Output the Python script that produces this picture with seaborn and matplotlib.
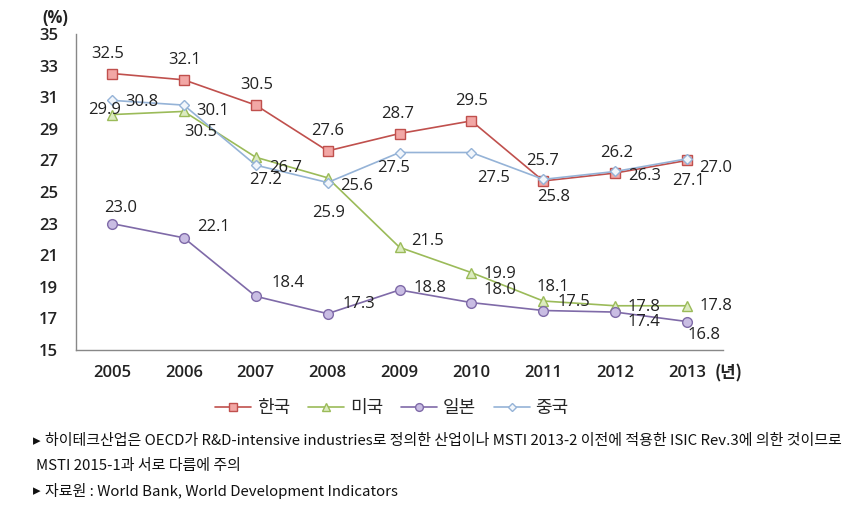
import matplotlib
matplotlib.use("Agg")
import matplotlib.pyplot as plt
import seaborn as sns
import pandas as pd
from matplotlib.ticker import FixedLocator

years = ["2005", "2006", "2007", "2008", "2009", "2010", "2011", "2012", "2013"]
korea = [32.5, 32.1, 30.5, 27.6, 28.7, 29.5, 25.7, 26.2, 27.0]
usa = [29.9, 30.1, 27.2, 25.9, 21.5, 19.9, 18.1, 17.8, 17.8]
japan = [23.0, 22.1, 18.4, 17.3, 18.8, 18.0, 17.5, 17.4, 16.8]
china = [30.8, 30.5, 26.7, 25.6, 27.5, 27.5, 25.8, 26.3, 27.1]
series_names = ["한국", "미국", "일본", "중국"]
yticks = [15, 17, 19, 21, 23, 25, 27, 29, 31, 33, 35]
notes = [
    "하이테크산업은 OECD가 R&D-intensive industries로 정의한 산업이나 MSTI 2013-2 이전에 적용한 ISIC Rev.3에 의한 것이므로",
    "MSTI 2015-1과 서로 다름에 주의",
    "자료원 : World Bank, World Development Indicators",
]

sns.set_theme(style="white")
plt.rcParams["font.family"] = ["Noto Sans CJK KR", "DejaVu Sans"]

values = {"한국": korea, "미국": usa, "일본": japan, "중국": china}
rows = []
for name in series_names:
    for i, (yr, v) in enumerate(zip(years, values[name])):
        rows.append({"pos": i, "year": yr, "value": v, "country": name})
df = pd.DataFrame(rows)

styles = {
    "한국": dict(color="#C0504D", marker="s", mfc="#F2A7A5", mec="#C0504D", ms=6.5),
    "미국": dict(color="#9BBB59", marker="^", mfc="#DCEBC0", mec="#9BBB59", ms=7),
    "일본": dict(color="#7F6AA8", marker="o", mfc="#C9BDE3", mec="#7F6AA8", ms=7),
    "중국": dict(color="#95B3D7", marker="D", mfc="#F2F6FB", mec="#95B3D7", ms=5),
}

# label offsets in pixels (dx right, dy down) -- styling only
offsets = {
    "한국": [(-4, -20), (1, -20), (1, -20), (0, -20), (-2, -20), (0, -20), (-1, -20), (1, -20), (29, 8)],
    "미국": [(-7, -5), (29, 0), (10, 23), (1, 35), (28, -6), (29, 1), (10, -14), (29, 1), (29, 0)],
    "일본": [(9, -16), (30, -11), (32, -13), (31, -10), (31, -2), (29, -13), (31, -8), (29, 10), (17, 13)],
    "중국": [(30, 2), (17, 27), (30, 3), (29, 3), (-6, 15), (22, 26), (10, 18), (29, 5), (1, 22)],
}

fig = plt.figure(figsize=(8.67, 5.15), dpi=100)
ax = fig.add_axes([76 / 867, 1 - 350 / 515, (723 - 76) / 867, (350 - 34) / 515])

for name in series_names:
    st = styles[name]
    sub = df[df["country"] == name]
    sns.lineplot(data=sub, x="pos", y="value", ax=ax, color=st["color"], lw=1.2,
                 marker=st["marker"], markerfacecolor=st["mfc"], markeredgecolor=st["mec"],
                 markeredgewidth=1.0, markersize=st["ms"], label=name, legend=False)

for name in series_names:
    for i, v in enumerate(values[name]):
        dx, dy = offsets[name][i]
        ax.annotate(f"{v:.1f}", (i, v), xytext=(dx * 0.72, -dy * 0.72), textcoords="offset points",
                    ha="center", va="center", fontsize=12, color="#222222",
                    family=["Open Sans", "DejaVu Sans"])

ax.set_xlim(-0.5, 8.5)
ax.set_ylim(15, 35)
ax.set_yticks(yticks)
ax.set_yticklabels([str(t) for t in yticks], fontsize=12, fontweight="semibold",
                   family=["Open Sans", "DejaVu Sans"], color="#222222")
ax.set_xticks(range(len(years)))
ax.set_xticklabels(years, fontsize=12, fontweight="semibold",
                   family=["Open Sans", "DejaVu Sans"], color="#222222")
ax.xaxis.set_minor_locator(FixedLocator([i - 0.5 for i in range(len(years) + 1)]))
ax.tick_params(axis="x", which="major", length=0, pad=11)
ax.tick_params(axis="x", which="minor", length=4, width=1, color="#888888", direction="out")
ax.tick_params(axis="y", which="major", length=4, width=1, color="#888888", direction="out", pad=9)
ax.set_xlabel("")
ax.set_ylabel("")
for s in ["top", "right"]:
    ax.spines[s].set_visible(False)
for s in ["left", "bottom"]:
    ax.spines[s].set_color("#888888")
    ax.spines[s].set_linewidth(1)

fig.text(55 / 867, 1 - 18 / 515, "(%)", ha="center", va="center", fontsize=12, fontweight="bold",
         family=["Open Sans", "DejaVu Sans"], color="#222222")
fig.text(729 / 867, 1 - 373 / 515, "(년)", ha="center", va="center", fontsize=12, fontweight="bold",
         color="#222222")

handles, labels = ax.get_legend_handles_labels()
fig.legend(handles, labels, loc="center", bbox_to_anchor=(392 / 867, 1 - 408 / 515), ncol=4,
           frameon=False, fontsize=13, handlelength=2.0, handletextpad=0.3, columnspacing=1.0,
           markerscale=0.8)

# footnotes
fig.text(33 / 867, 1 - 441 / 515, "▸", ha="left", va="center", fontsize=11, color="#111111",
         family=["DejaVu Sans"])
fig.text(45 / 867, 1 - 441 / 515, notes[0], ha="left", va="center", fontsize=10.8, color="#111111")
fig.text(36 / 867, 1 - 466 / 515, notes[1], ha="left", va="center", fontsize=10.8, color="#111111")
fig.text(33 / 867, 1 - 491 / 515, "▸", ha="left", va="center", fontsize=11, color="#111111",
         family=["DejaVu Sans"])
fig.text(45 / 867, 1 - 491 / 515, notes[2], ha="left", va="center", fontsize=10.8, color="#111111")

fig.savefig("out.png", dpi=100)
